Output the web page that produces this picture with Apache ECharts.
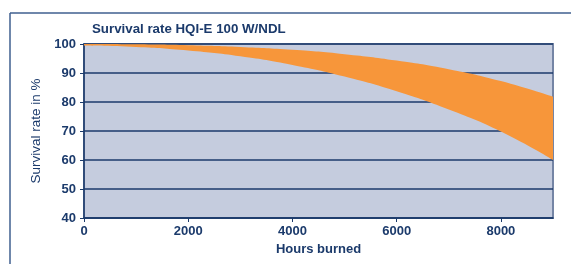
<!DOCTYPE html>
<html><head><meta charset="utf-8">
<script src="https://cdn.jsdelivr.net/npm/echarts@6/dist/echarts.min.js"></script>
<style>html,body{margin:0;padding:0;background:#fff}#c{width:571px;height:264px}</style>
</head><body><div id="c"></div>
<script>
const hours = [0, 1000, 2000, 3000, 4000, 5000, 6000, 7000, 8000, 9000];
const upperRate = [100, 99.9, 99.6, 99.0, 98.0, 96.5, 94.3, 91.3, 87.2, 81.8];
const lowerRate = [99.5, 99.0, 97.8, 95.8, 92.8, 88.8, 83.7, 77.4, 69.8, 60.0];
const xTickLabels = [0, 2000, 4000, 6000, 8000];
const yTickLabels = [40, 50, 60, 70, 80, 90, 100];

const navy = '#1b3a6b';
const font = '"Liberation Sans", Arial, sans-serif';
const chart = echarts.init(document.getElementById('c'), null, {renderer: 'canvas'});
chart.setOption({
  animation: false,
  title: {
    text: 'Survival rate HQI-E 100 W/NDL',
    left: 87, top: 18,
    textStyle: {fontFamily: font, fontWeight: 'bold', fontSize: 13.3, color: navy}
  },
  graphic: [
    {type: 'line', shape: {x1: 10, y1: 13, x2: 571, y2: 13}, style: {stroke: '#3f5f8f', lineWidth: 1.5}},
    {type: 'line', shape: {x1: 10, y1: 13, x2: 10, y2: 264}, style: {stroke: '#3f5f8f', lineWidth: 1.5}}
  ],
  grid: {
    left: 84, right: 18, top: 44, bottom: 46,
    show: true, backgroundColor: '#c5ccde', borderColor: '#7585a5', borderWidth: 2
  },
  xAxis: {
    type: 'category', boundaryGap: false,
    data: hours.map(String),
    name: 'Hours burned', nameLocation: 'middle', nameGap: 23,
    nameTextStyle: {fontFamily: font, fontWeight: 'bold', fontSize: 13, color: navy},
    axisLine: {show: true, lineStyle: {color: navy, width: 1.5}},
    axisTick: {show: true, length: 4, interval: 1, lineStyle: {color: navy}},
    axisLabel: {fontFamily: font, fontWeight: 'bold', fontSize: 13, color: navy, margin: 7,
      interval: (i, v) => xTickLabels.includes(Number(v))},
    splitLine: {show: false}
  },
  yAxis: {
    type: 'value', min: 40, max: 100, interval: 10,
    name: 'Survival rate in %', nameLocation: 'middle', nameGap: 40, nameRotate: 90,
    nameTextStyle: {fontFamily: font, fontSize: 13.5, color: navy},
    axisLine: {show: true, lineStyle: {color: navy, width: 1.5}},
    axisTick: {show: true, length: 4, lineStyle: {color: navy}},
    axisLabel: {fontFamily: font, fontWeight: 'bold', fontSize: 13, color: navy, margin: 8,
      formatter: v => yTickLabels.includes(v) ? String(v) : ''},
    splitLine: {show: true, lineStyle: {color: navy, width: 1.5}}
  },
  series: [
    {
      type: 'line', stack: 'band', smooth: 0.5, symbol: 'none',
      data: lowerRate,
      lineStyle: {width: 0, opacity: 0}
    },
    {
      type: 'line', stack: 'band', smooth: 0.5, symbol: 'none',
      data: upperRate.map((u, i) => +(u - lowerRate[i]).toFixed(2)),
      lineStyle: {width: 0, opacity: 0},
      areaStyle: {color: '#f7963a', opacity: 1}
    }
  ]
});
</script></body></html>
